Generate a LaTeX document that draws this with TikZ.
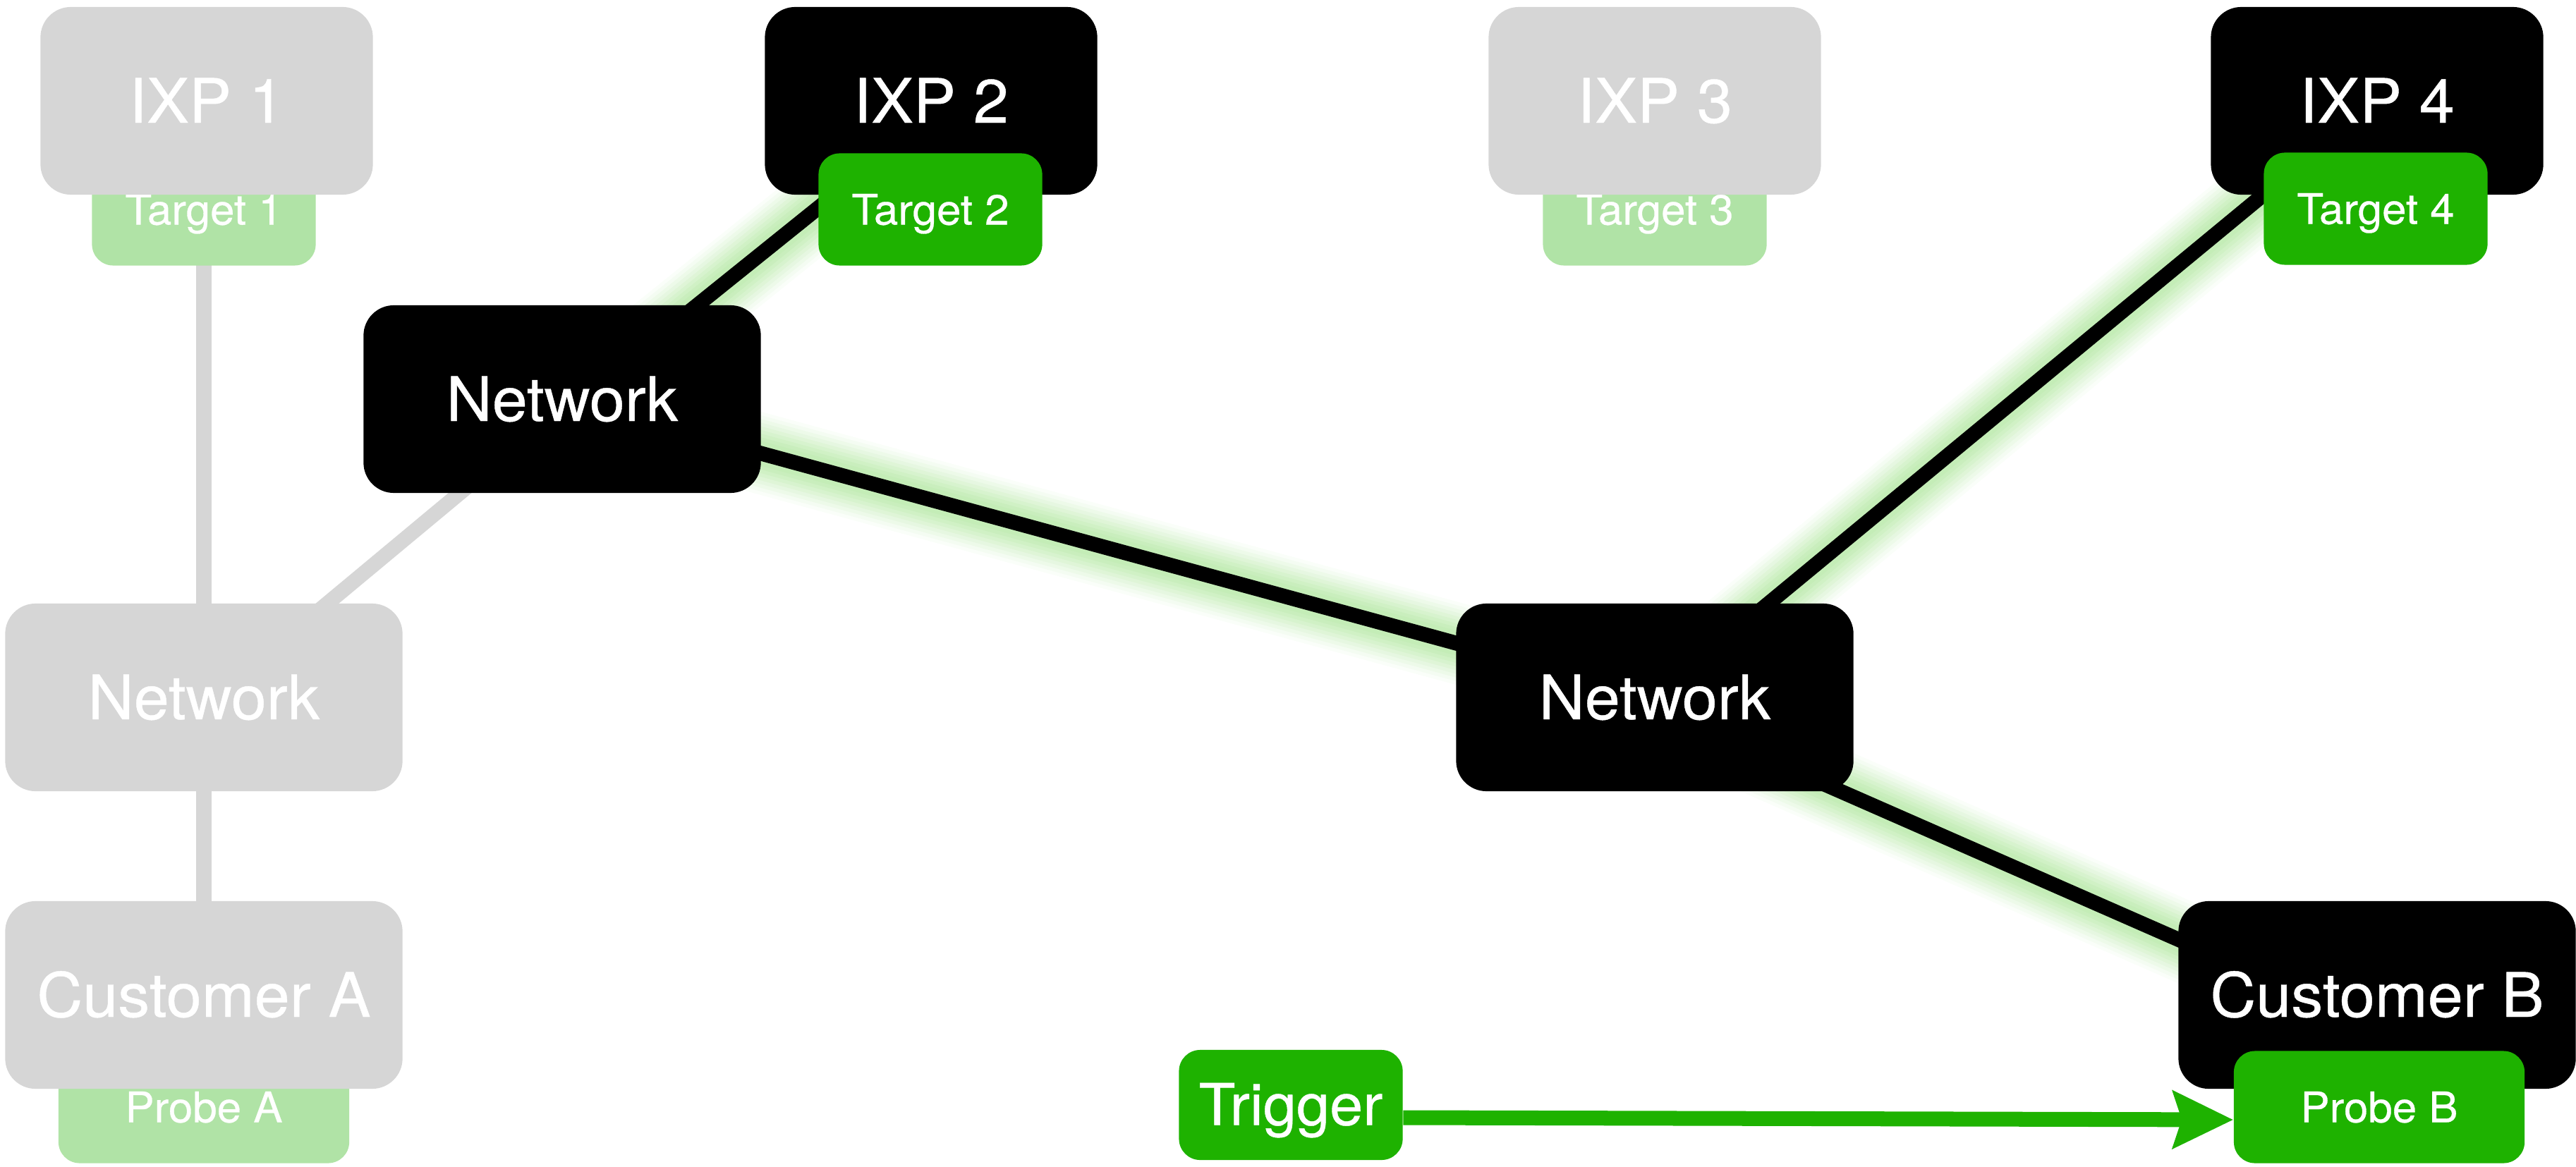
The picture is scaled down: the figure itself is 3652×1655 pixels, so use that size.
\documentclass[tikz,border=0pt]{standalone}
\usepackage{fontspec}
\setmainfont{TeX Gyre Heros}[FakeStretch=1.035, FakeBold=0.5]
\usetikzlibrary{calc,arrows.meta}
\definecolor{boxgray}{HTML}{D6D6D6}
\definecolor{paleg}{HTML}{B0E3A6}
\definecolor{brightg}{HTML}{1EB200}
\definecolor{glowc}{HTML}{C4EDB7}
\pgfdeclarelayer{bg}
\pgfsetlayers{bg,main}
\tikzset{
  box/.style={rectangle, rounded corners=0.43cm, inner sep=0pt, text=white, align=center},
  bigtext/.style={box, font=\fontsize{24.7}{29}\selectfont, text height=0.62cm, text depth=0cm},
  smalltext/.style={box, rounded corners=0.3cm, font=\fontsize{17}{20}\selectfont, text height=0.43cm, text depth=0cm},
  ixpbox/.style={bigtext, minimum width=4.71cm, minimum height=2.66cm},
  netbox/.style={bigtext, minimum width=5.63cm, minimum height=2.66cm},
  tgtbox/.style={smalltext, minimum width=3.17cm, minimum height=1.59cm},
  probebox/.style={smalltext, minimum width=4.12cm, minimum height=1.59cm},
  trigbox/.style={box, rounded corners=0.3cm, fill=brightg, font=\fontsize{23.3}{27}\selectfont,
    text height=0.57cm, text depth=0cm, minimum width=3.17cm, minimum height=1.56cm},
  grayline/.style={draw=boxgray, line width=0.21cm},
  blackline/.style={draw=black, line width=0.21cm},
  arrowline/.style={draw=brightg, line width=0.21cm,
    -{Stealth[length=0.85cm, width=0.8cm, inset=0.12cm]}}
}
\begin{document}
\begin{tikzpicture}[x=0.01cm, y=-0.01cm]
\path[use as bounding box] (0,0) rectangle (3652,1655);

% top row: IXPs with targets
\node[tgtbox, fill=paleg] (t1) at (289,297) {Target 1};
\node[ixpbox, fill=boxgray] (ixp1) at (293,143) {IXP 1};
\node[ixpbox, fill=black] (ixp2) at (1320,143) {IXP 2};
\node[tgtbox, fill=brightg] (t2) at (1319,297) {Target 2};
\node[tgtbox, fill=paleg] (t3) at (2346,297) {Target 3};
\node[ixpbox, fill=boxgray] (ixp3) at (2346,143) {IXP 3};
\node[ixpbox, fill=black] (ixp4) at (3370,143) {IXP 4};
\node[tgtbox, fill=brightg] (t4) at (3368,296) {Target 4};

% networks
\node[netbox, fill=black] (net1) at (797,566) {Network};
\node[netbox, fill=boxgray] (netA) at (289,989) {Network};
\node[netbox, fill=black] (net2) at (2346,989) {Network};

% customers and probes
\node[probebox, fill=paleg] (probeA) at (289,1570) {Probe A};
\node[netbox, fill=boxgray] (custA) at (289,1411) {Customer A};
\node[netbox, fill=black] (custB) at (3370,1411) {Customer B};
\node[probebox, fill=brightg] (probeB) at (3373,1570) {Probe B};
\node[trigbox] (trig) at (1830,1567) {Trigger};

% connector end points
\coordinate (g1) at ($(net1.center)+(26,0)$);
\coordinate (g2) at ($(ixp2.center)+(0,23)$);
\coordinate (g3) at ($(net2.center)+(-40,0)$);
\coordinate (g4) at ($(custB.center)+(0,45)$);
\coordinate (h1) at ($(netA.center)+(15,0)$);
\coordinate (h2) at ($(net1.center)+(15,0)$);
\coordinate (a1) at ($(trig.east)+(0,18)$);
\coordinate (a2) at ($(probeB.west)+(0,18)$);

\begin{pgfonlayer}{bg}
  % gray connectors
  \draw[grayline] (t1.center) -- (netA.center);
  \draw[grayline] (netA.center) -- (custA.center);
  \draw[grayline] (h1) -- (h2);
  % glow under active path
  \foreach \w/\c in {1.14/8, 1.04/18, 0.94/30, 0.84/42, 0.74/55, 0.64/68, 0.54/80, 0.44/92, 0.34/100}{
    \foreach \a/\b in {g1/g2, net1/net2, net2/ixp4, g3/g4}{
      \draw[line width=\w cm, draw=glowc!\c] (\a.center) -- (\b.center);
    }
  }
  % black connectors
  \draw[blackline] (g1) -- (g2);
  \draw[blackline] (net1.center) -- (net2.center);
  \draw[blackline] (net2.center) -- (ixp4.center);
  \draw[blackline] (g3) -- (g4);
\end{pgfonlayer}

% trigger arrow
\draw[arrowline] (a1) -- (a2);
\end{tikzpicture}
\end{document}
